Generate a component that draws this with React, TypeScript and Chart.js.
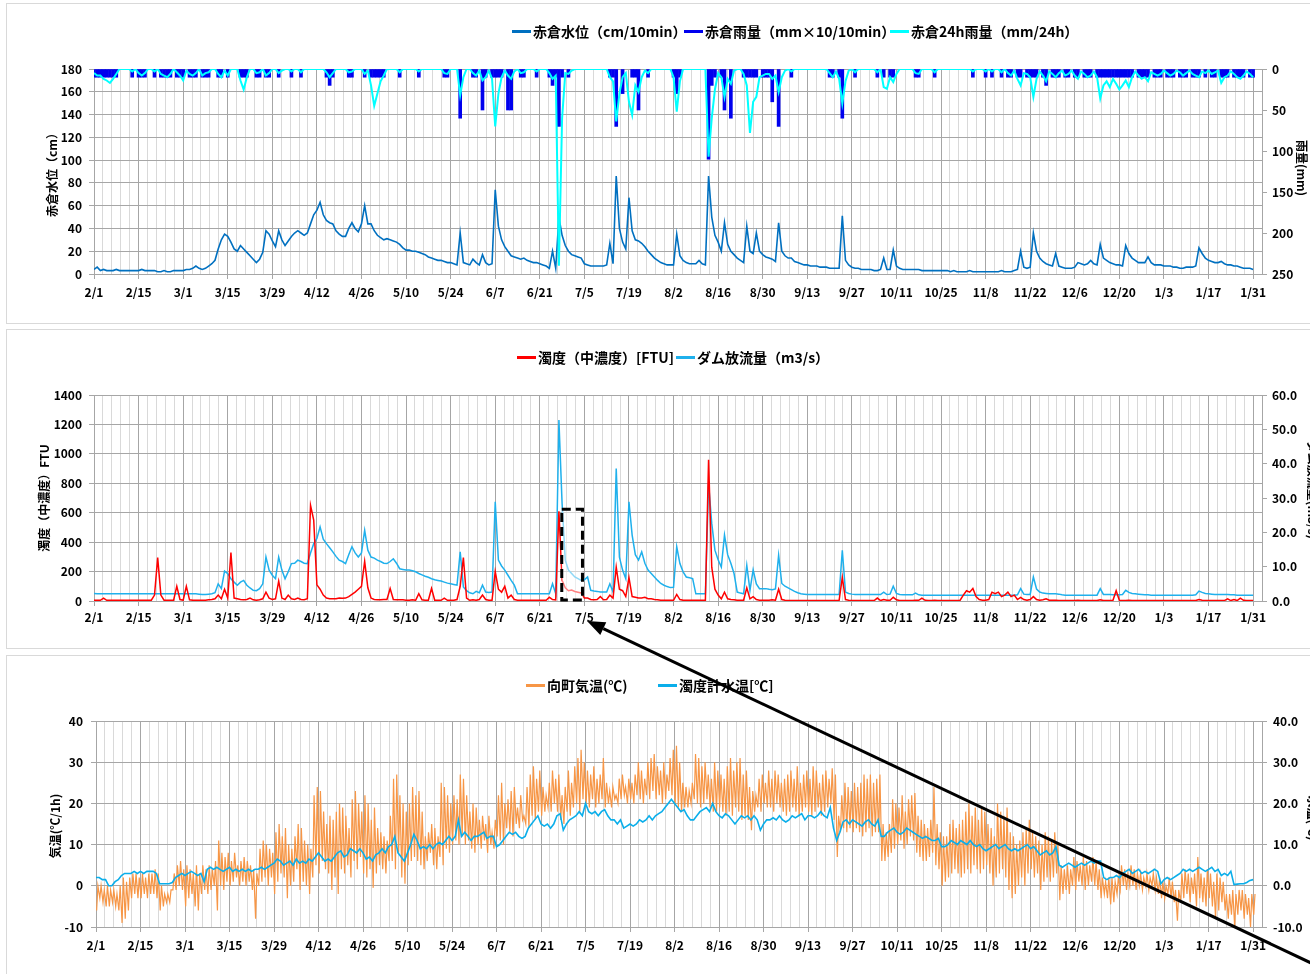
import { useEffect, useRef } from "react";
import { Chart, registerables } from "chart.js";

Chart.register(...registerables);

const FONT = '"Noto Sans CJK JP", "Noto Sans", sans-serif';

// x axis: day index, 0 = 2/1 ... 364 = 1/31 (one extra minor step of room after 1/31)
const tickLabels = [
  "2/1", "2/15", "3/1", "3/15", "3/29", "4/12", "4/26", "5/10", "5/24", "6/7", "6/21", "7/5", "7/19", "8/2",
  "8/16", "8/30", "9/13", "9/27", "10/11", "10/25", "11/8", "11/22", "12/6", "12/20", "1/3", "1/17", "1/31",
];
const MAJOR_STEP = 14;
const MINOR_STEP = 2.8;
const X_MAX = 366.8;

// 赤倉水位 (cm), daily, Feb..Jan
const waterLevel = [
  4, 6, 3, 4, 3, 3, 3, 4, 3, 3, 3, 3, 3, 3, 3, 4, 3, 3, 3, 3, 2, 2, 3, 2, 2, 3, 3, 3,
  3, 4, 4, 5, 7, 5, 4, 5, 7, 9, 12, 22, 30, 35, 33, 28, 22, 20, 25, 22, 19, 16, 13, 10, 13, 19, 38, 35, 29, 24, 38,
  30, 25, 29, 33, 36, 38, 36, 34, 36, 44, 52, 56, 63, 52, 47, 45, 44, 38, 35, 33, 33, 40, 45, 40, 37, 44, 60, 44, 44, 38,
  34, 32, 30, 31, 30, 29, 28, 26, 23, 21, 21, 20, 20, 19, 18, 17, 15, 14, 13, 12, 12, 11, 10, 10, 9, 8, 36, 10, 9, 8, 13,
  10, 8, 17, 10, 8, 9, 74, 42, 30, 24, 20, 16, 15, 14, 13, 14, 12, 11, 10, 10, 9, 8, 7, 5, 20, 5, 50, 34, 25, 20,
  17, 16, 15, 14, 9, 8, 7, 7, 7, 7, 7, 8, 27, 9, 86, 40, 28, 22, 67, 38, 30, 29, 27, 24, 20, 17, 14, 12, 10, 9, 8,
  8, 8, 35, 16, 12, 10, 9, 9, 9, 12, 9, 8, 86, 50, 34, 28, 20, 45, 26, 20, 17, 14, 12, 10, 42, 20, 18, 36, 20, 17, 15,
  14, 13, 11, 45, 20, 16, 14, 14, 11, 10, 9, 8, 8, 7, 7, 7, 6, 6, 6, 5, 5, 5, 5, 51, 12, 8, 6, 5, 5, 4,
  4, 4, 4, 3, 3, 4, 14, 4, 4, 21, 7, 5, 4, 4, 4, 4, 4, 4, 3, 3, 3, 3, 3, 3, 3, 3, 3, 2, 3, 2, 2,
  2, 2, 3, 2, 2, 2, 2, 2, 2, 2, 2, 2, 3, 2, 2, 2, 3, 4, 20, 6, 5, 6, 36, 20, 14, 11, 9, 8, 7, 18,
  7, 6, 5, 5, 5, 6, 10, 9, 8, 9, 12, 9, 8, 26, 14, 12, 10, 9, 8, 8, 7, 25, 18, 14, 12, 10, 10, 10, 15, 10, 8,
  8, 8, 7, 7, 7, 6, 6, 5, 5, 6, 6, 6, 7, 23, 18, 14, 12, 11, 10, 10, 11, 9, 8, 8, 7, 7, 6, 5, 5, 5, 4,
];

// 赤倉雨量 (mm×10/10min), daily peak
const rain10min = [
  10, 10, 10, 10, 10, 10, 10, 10, 0, 0, 0, 0, 10, 0, 10, 10, 10, 0, 0, 10, 0, 10, 10, 10, 10, 0, 10, 10,
  10, 0, 10, 10, 10, 0, 10, 10, 10, 0, 0, 10, 10, 0, 10, 0, 0, 0, 10, 10, 10, 0, 0, 10, 10, 0, 10, 10, 0, 0, 10,
  0, 0, 0, 10, 0, 0, 10, 0, 0, 0, 0, 0, 0, 0, 10, 20, 10, 0, 0, 0, 0, 10, 10, 0, 0, 0, 10, 0, 10, 10,
  10, 10, 10, 0, 0, 0, 0, 10, 0, 0, 0, 0, 0, 10, 0, 0, 0, 0, 0, 0, 0, 10, 10, 0, 0, 0, 60, 0, 0, 0, 10,
  10, 0, 50, 10, 0, 10, 10, 10, 10, 0, 50, 50, 0, 0, 10, 10, 0, 0, 0, 10, 0, 0, 0, 10, 20, 10, 70, 10, 0, 10,
  0, 0, 0, 0, 0, 0, 0, 0, 0, 0, 0, 0, 10, 10, 70, 0, 30, 0, 0, 10, 10, 50, 0, 0, 10, 0, 0, 0, 0, 0, 0,
  0, 10, 30, 10, 0, 0, 0, 0, 0, 0, 0, 0, 110, 20, 10, 0, 10, 50, 0, 60, 0, 0, 0, 10, 10, 10, 10, 10, 0, 10, 10,
  10, 40, 0, 70, 0, 0, 0, 10, 0, 0, 0, 0, 0, 0, 0, 0, 0, 0, 0, 10, 10, 0, 10, 60, 0, 0, 0, 10, 0, 0,
  0, 0, 0, 0, 10, 0, 10, 0, 10, 10, 0, 0, 0, 0, 0, 0, 10, 10, 0, 0, 0, 0, 10, 0, 0, 0, 0, 0, 0, 0, 0,
  0, 0, 0, 10, 0, 0, 0, 10, 0, 10, 0, 0, 10, 0, 10, 10, 0, 10, 10, 0, 10, 10, 10, 10, 0, 10, 20, 0, 10, 10,
  10, 0, 10, 10, 0, 10, 10, 0, 10, 10, 10, 0, 10, 10, 10, 10, 10, 10, 10, 10, 10, 10, 10, 10, 0, 10, 10, 10, 10, 0, 10,
  10, 10, 0, 10, 10, 10, 0, 10, 10, 10, 0, 10, 10, 10, 0, 10, 0, 10, 10, 0, 10, 10, 10, 0, 10, 10, 10, 10, 0, 10, 10,
];

// 赤倉24h雨量 (mm/24h)
const rain24h = [
  5, 8, 8, 12, 14, 17, 12, 6, 0, 0, 0, 0, 3, 0, 5, 8, 5, 0, 0, 3, 0, 6, 8, 10, 6, 0, 4, 8,
  14, 2, 6, 8, 5, 0, 8, 5, 4, 0, 0, 6, 10, 2, 8, 0, 0, 0, 14, 25, 10, 0, 0, 5, 4, 0, 8, 5, 0, 0, 5,
  2, 0, 0, 3, 0, 0, 4, 0, 0, 0, 0, 0, 0, 0, 4, 10, 5, 0, 0, 0, 0, 4, 3, 0, 0, 0, 6, 2, 20, 45,
  30, 15, 8, 0, 0, 0, 0, 4, 0, 0, 0, 0, 0, 3, 0, 0, 0, 0, 0, 0, 0, 5, 6, 0, 0, 0, 32, 10, 0, 0, 5,
  8, 2, 14, 10, 2, 12, 70, 30, 10, 2, 8, 12, 3, 0, 5, 4, 0, 0, 0, 3, 0, 0, 0, 5, 12, 8, 240, 60, 5, 6,
  2, 0, 0, 0, 0, 0, 0, 0, 0, 0, 0, 0, 10, 15, 64, 30, 10, 5, 40, 56, 20, 28, 10, 2, 5, 0, 0, 0, 0, 0, 0,
  0, 10, 52, 15, 0, 0, 0, 0, 0, 0, 0, 0, 107, 60, 25, 5, 10, 34, 12, 18, 2, 0, 0, 6, 20, 78, 40, 34, 10, 8, 6,
  6, 12, 8, 28, 10, 2, 0, 3, 0, 0, 0, 0, 0, 0, 0, 0, 0, 0, 0, 5, 10, 3, 12, 42, 15, 2, 0, 4, 0, 0,
  0, 0, 0, 0, 4, 0, 22, 24, 10, 16, 6, 0, 0, 0, 0, 0, 5, 6, 0, 0, 0, 0, 4, 0, 0, 0, 0, 0, 0, 0, 0,
  0, 0, 0, 3, 0, 0, 0, 3, 0, 3, 0, 0, 4, 0, 5, 8, 2, 12, 20, 5, 6, 10, 34, 12, 3, 8, 15, 3, 6, 10,
  5, 2, 8, 6, 2, 8, 12, 3, 6, 10, 8, 3, 10, 36, 20, 15, 22, 12, 18, 25, 20, 14, 22, 10, 3, 8, 12, 10, 15, 4, 6,
  8, 6, 2, 5, 8, 6, 2, 4, 8, 5, 2, 6, 8, 10, 3, 5, 2, 6, 4, 2, 17, 10, 8, 3, 6, 10, 12, 8, 3, 6, 10,
];

// 濁度(中濃度) (FTU)
const turbidity = [
  5, 5, 5, 20, 5, 5, 5, 5, 5, 5, 5, 5, 5, 5, 5, 5, 5, 5, 5, 40, 295, 40, 5, 5, 5, 5, 100, 10,
  5, 100, 8, 5, 5, 5, 5, 5, 8, 10, 15, 40, 15, 80, 20, 330, 20, 15, 10, 8, 10, 20, 8, 5, 8, 15, 60, 20, 10, 15, 135,
  20, 10, 40, 15, 10, 20, 10, 8, 15, 650, 550, 110, 80, 40, 20, 15, 15, 15, 20, 18, 20, 30, 45, 60, 80, 100, 270, 90, 20, 10,
  8, 8, 10, 10, 85, 10, 8, 8, 8, 5, 5, 8, 5, 50, 8, 5, 5, 85, 5, 5, 5, 20, 5, 5, 5, 10, 100, 295, 20, 5, 8,
  5, 10, 40, 10, 5, 5, 200, 80, 60, 100, 20, 40, 10, 5, 5, 5, 5, 5, 5, 5, 5, 5, 5, 25, 10, 8, 610, 140, 90, 70,
  75, 65, 60, 55, 20, 20, 10, 8, 10, 30, 8, 10, 40, 20, 230, 80, 70, 30, 160, 30, 25, 20, 20, 25, 15, 15, 10, 8, 5, 5, 5,
  5, 5, 45, 10, 5, 5, 5, 5, 5, 5, 5, 5, 960, 230, 80, 40, 15, 60, 15, 10, 8, 5, 5, 5, 90, 15, 30, 10, 5, 5, 5,
  5, 8, 5, 80, 10, 5, 3, 3, 3, 3, 3, 3, 3, 3, 3, 3, 3, 3, 3, 3, 3, 3, 5, 160, 10, 5, 3, 3, 3, 3,
  3, 3, 3, 3, 20, 3, 10, 5, 5, 25, 8, 3, 3, 3, 3, 3, 5, 5, 20, 5, 3, 3, 5, 3, 3, 3, 3, 3, 3, 3, 5,
  40, 70, 60, 85, 30, 10, 5, 5, 10, 60, 50, 60, 30, 40, 60, 30, 40, 10, 25, 10, 5, 10, 30, 10, 5, 8, 15, 5, 5, 5,
  3, 3, 3, 3, 3, 3, 5, 3, 3, 3, 3, 3, 3, 8, 3, 3, 3, 5, 70, 5, 3, 3, 5, 3, 3, 3, 3, 3, 3, 3, 3,
  3, 3, 3, 3, 3, 3, 3, 3, 3, 3, 3, 3, 3, 10, 5, 3, 3, 3, 3, 3, 3, 3, 15, 3, 10, 3, 20, 5, 3, 3, 3,
];

// ダム放流量 (m3/s)
const damOutflow = [
  2.2, 2.1, 2.1, 2.1, 2.1, 2.1, 2.1, 2.1, 2.1, 2.1, 2.1, 2.1, 2.1, 2.1, 2.1, 2.1, 2.1, 2.1, 2.1, 2.1, 2.1, 2.1, 2.1, 2.1, 2.1, 2.1, 2.1, 2.1,
  2.1, 2.1, 2.1, 2.1, 2.1, 2.0, 1.9, 1.9, 2.0, 2.1, 2.4, 5.0, 3.6, 8.7, 8.0, 6.5, 5.5, 4.6, 5.5, 6.0, 4.6, 3.8, 3.1, 3.0, 3.6, 5.0, 12.8, 9.0, 7.5, 6.5, 12.8,
  9.0, 6.5, 8.5, 10.9, 11.0, 11.9, 11.5, 11.0, 10.9, 14.0, 16.7, 18.2, 21.6, 18.0, 16.7, 15.5, 14.3, 13.0, 11.9, 11.5, 10.9, 13.5, 15.8, 14.0, 12.8, 14.0, 20.6, 14.8, 12.8, 12.5,
  11.9, 11.5, 11.0, 10.9, 11.5, 12.3, 11.0, 9.4, 9.2, 9.0, 9.0, 8.8, 8.5, 8.0, 7.6, 7.2, 6.9, 6.5, 6.2, 6.0, 5.8, 5.5, 5.2, 5.0, 4.8, 4.6, 14.3, 4.1, 3.0, 2.4, 2.1,
  2.8, 2.4, 4.6, 2.6, 2.5, 2.6, 28.9, 11.9, 10.2, 9.0, 7.5, 6.0, 4.6, 2.1, 2.1, 2.1, 2.1, 2.1, 2.1, 2.1, 2.1, 2.1, 2.1, 2.1, 5.0, 2.1, 52.7, 28.4, 11.9, 9.0,
  8.0, 7.0, 6.5, 6.0, 6.2, 7.0, 3.1, 2.9, 2.8, 2.6, 2.6, 2.6, 5.0, 2.6, 38.6, 12.8, 9.0, 6.5, 28.9, 19.2, 13.5, 11.9, 14.3, 11.0, 9.0, 8.0, 7.0, 6.0, 5.1, 4.6, 4.2,
  3.9, 4.0, 15.8, 10.9, 8.5, 7.0, 6.8, 6.5, 2.1, 2.1, 2.1, 2.1, 34.2, 22.6, 14.8, 12.0, 9.9, 19.2, 13.5, 11.0, 8.0, 2.6, 2.3, 2.1, 10.4, 3.1, 9.1, 5.0, 3.6, 3.6, 3.6,
  3.4, 3.3, 3.5, 13.3, 5.1, 4.3, 3.8, 3.3, 2.8, 2.4, 2.1, 2.0, 1.9, 1.9, 1.9, 1.9, 1.9, 1.9, 1.9, 1.9, 1.9, 1.9, 1.9, 14.8, 2.6, 2.2, 2.0, 1.9, 1.9, 1.9,
  1.9, 1.9, 1.9, 1.9, 1.9, 1.9, 2.6, 1.9, 2.0, 4.3, 2.2, 1.9, 1.8, 1.8, 1.8, 1.8, 2.3, 1.8, 1.7, 1.7, 1.7, 1.7, 1.7, 1.7, 1.7, 1.7, 1.7, 1.7, 1.7, 1.7, 1.7,
  1.7, 1.7, 1.7, 1.7, 1.7, 1.7, 1.7, 1.7, 1.7, 1.7, 1.7, 1.7, 1.7, 1.7, 1.7, 1.7, 1.7, 1.8, 3.6, 2.0, 1.9, 1.9, 7.0, 3.5, 2.6, 2.3, 2.2, 2.1, 2.1, 2.1,
  2.0, 1.8, 1.7, 1.7, 1.7, 1.7, 1.7, 1.7, 1.7, 1.7, 1.7, 1.7, 1.7, 3.6, 1.9, 1.9, 1.9, 1.8, 1.8, 1.8, 1.9, 3.1, 2.5, 2.2, 2.1, 2.0, 1.9, 1.8, 1.8, 1.7, 1.7,
  1.7, 1.7, 1.7, 1.7, 1.7, 1.7, 1.7, 1.7, 1.7, 1.7, 1.7, 1.7, 1.8, 2.9, 2.5, 2.2, 2.1, 2.0, 1.9, 1.9, 1.9, 1.9, 1.9, 1.8, 1.8, 1.7, 1.7, 1.7, 1.7, 1.7, 1.7,
];

// 向町気温 (℃): daily high and low
const airTempHigh = [
  0, 0, -1, 0, -1, -1, -2, 0, 2, 1, 2, 3, 3, 2, 3, 2, 3, 3, 4, 3, 0, -2, -2, -1, 3, 5, 6, 4,
  5, 4, 3, 5, 3, 5, 4, 5, 4, 6, 11, 8, 7, 8, 6, 8, 5, 6, 7, 6, 5, 4, 3, 9, 11, 10, 9, 8, 13, 15, 12,
  14, 10, 9, 12, 15, 14, 11, 10, 9, 22, 24, 23, 18, 15, 17, 16, 18, 20, 19, 17, 14, 21, 23, 20, 18, 22, 20, 16, 19, 14,
  13, 12, 11, 17, 26, 27, 22, 20, 18, 20, 24, 22, 23, 18, 12, 13, 15, 14, 12, 25, 24, 22, 20, 22, 21, 27, 26, 22, 18, 20, 19,
  16, 17, 15, 17, 13, 16, 22, 25, 20, 21, 23, 24, 19, 22, 17, 24, 27, 29, 26, 28, 24, 22, 25, 28, 26, 27, 22, 24, 28, 25,
  29, 31, 33, 30, 28, 27, 29, 26, 27, 31, 25, 23, 24, 22, 26, 27, 24, 26, 25, 27, 30, 28, 26, 30, 31, 32, 29, 28, 30, 27, 31,
  33, 34, 30, 25, 24, 23, 25, 32, 31, 29, 30, 27, 26, 30, 28, 27, 26, 29, 31, 28, 30, 31, 27, 28, 24, 23, 22, 26, 27, 25, 28,
  26, 28, 27, 25, 26, 27, 28, 26, 29, 25, 27, 28, 26, 29, 28, 25, 27, 28, 26, 28.5, 27, 17, 22, 25, 24, 23, 25, 24, 25, 27,
  26, 27, 25, 26, 27, 15, 13, 15, 21, 20, 19, 22, 18, 21, 22, 22.5, 17, 16, 15, 14, 16, 24, 15, 13, 12, 12, 15, 16, 14, 15, 16,
  18, 20, 17, 19, 16, 19, 18, 15, 14, 12, 20, 18, 17, 19, 13, 12, 10, 11, 13, 14, 16, 13, 12, 11, 10, 13, 12, 11, 13, 10,
  5, 4, 5, 4, 7, 6, 5, 7, 6, 5, 7, 6, 4, 2, 1, 2, 2, 1, 2, 5, 4, 3, 5, 4, 3, 3, 2, 3, 2, 3, 2,
  2, 1, 0, 2, 1, -1, -1, 3, 4, 3, 2, 3, 7, 3, 2, 4, 3, 1, 3, 2, 1, -2, -2, -1, -2, -1, -1, -2, -3, -2, -2,
];
const airTempLow = [
  -6, -3, -4, -5, -5, -4, -5, -6, -9, -8, -6, -3, -2, -3, -3, -2, -3, -2, -2, -3, -6, -5, -4, -4, -1, -1, 0, -1,
  -5, -3, -2, -5, -6, -2, -1, -2, -1, 0, -6, 0, -1, 1, 0, 1, 2, 0, 1, 0, 1, -1, -8, 0, 1, 2, 0, 2, -2, 1, 3,
  2, -3, 0, 1, 4, -1, 1, 0, -2, 2, 5, 3, 6, 4, 3, -1, 2, -2, 4, 3, 5, 2, 6, 4, 7, 3, 2, 4, -0.5, 3,
  5, 4, 3, 6, 6, 4, 8, 2, 0.5, 5, 6, 7, 6, 5, 4, 6, 8, 5, 4, 7, 5, 9, 8, 10, 11, 10, 12, 10, 11, 9, 8,
  10, 9, 11, 8, 10, 9, 12, 11, 10, 14, 13, 12, 15, 14, 16, 15, 14, 17, 16, 18, 17, 18, 19, 18, 20, 18, 16, 15, 18, 17,
  19, 20, 18, 21, 20, 19, 21, 19, 20, 21, 19, 20, 19, 21, 20, 21, 22, 20, 21, 20, 22, 21, 20, 22, 21, 23, 21, 22, 20, 21, 23,
  22, 20, 19, 18, 19, 19, 20, 21, 20, 19, 20, 21, 19, 18, 18, 19, 18, 17, 18, 17, 19, 18, 16, 17, 16, 13.5, 18, 19, 18, 20, 19,
  19, 18, 20, 19, 18, 17, 18, 19, 18, 17, 18, 19, 18, 17, 18, 19, 17, 18, 19, 20, 16, 7, 13, 14, 13, 14, 13, 14, 13, 12,
  13, 14, 12, 13, 13, 6, 6, 7, 8, 9, 10, 11, 9, 10, 12, 11, 8, 7, 6, 6, 7, 8, 5, 4, 0, 1, 2, 3, 4, 3, 2,
  3, 4, 3, 5, 4, 3, 4, 5, 3, 0, 2, 3, 4, 2, -1, -3, -2, 0, 2, 0, 3, 4, 2, 3, -1, 1, 2, 1, 2, 3,
  -3.5, -2, -1, -2, 0, -1, 1, 0, -1, 0, 1, 0, -1, -3, -2, -3, -4.5, -4, -2, -1, 0, -1, 0, 0, -1, 0, -1, 0, -1, 0, -1,
  -2, -3, -3, -2, -3, -4, -8.5, -4, -3, -2, -4, -2, -5, -3, -4, -5, -3, -5, -8, -6, -4, -6, -8, -7, -10, -7, -6, -8, -7, -10, -7,
];

// 濁度計水温 (℃), daily
const waterTemp = [
  2, 2, 1.5, 1.5, 0, 0, 1, 1.5, 2.5, 3, 3, 3, 3.5, 3, 3.5, 3, 3.5, 3.5, 3.5, 3, 0.5, 0.5, 0.5, 0.5, 0.8, 2, 2.5, 3,
  2.5, 3, 3.5, 3, 2.5, 3, 1, 4, 4.5, 4, 4.5, 4, 3.5, 4, 4.5, 3.5, 4, 3.5, 4, 3.5, 4, 3.5, 4, 4, 4.5, 4, 4.5, 5, 5.5, 6.5, 6,
  5, 5.5, 6, 5, 6.5, 5.5, 6, 5.5, 6.5, 6, 7, 8, 7, 6, 6.5, 6, 7, 8, 8.5, 7, 7.5, 9, 8.5, 8, 9, 8, 6.5, 7, 6, 7.5,
  8, 9, 8, 9.5, 10, 12, 8, 7, 6, 8, 10, 12.5, 11, 9, 9.5, 9, 10, 9, 10, 10.5, 10, 11, 12, 11, 12, 16, 12, 13, 12, 11, 12,
  12, 12.5, 13, 11.5, 12, 12, 9.5, 10, 11, 12, 13, 12.5, 13, 12, 11.5, 12, 14, 15, 16, 17, 15, 14.5, 15, 14, 15, 17, 17.5, 13.5, 15, 16,
  16.5, 17, 18, 17, 20, 18, 17.5, 18, 17, 18, 18.5, 17, 16, 16, 15, 16, 14, 14.5, 15, 14.5, 15, 16, 15.5, 16, 17, 16, 17, 17.5, 18, 19, 20,
  21, 20, 19, 18, 18.5, 17, 16, 16, 17, 18, 18.5, 19, 18, 20, 18, 17, 16.5, 17.5, 17, 16, 15, 16, 17, 16.5, 17, 16, 17, 16, 13.5, 15, 16,
  16, 16.5, 16, 17, 16, 15.5, 16, 17, 16.5, 17, 17.5, 16, 17, 17, 16.5, 17, 18, 17, 16.5, 19, 14, 11, 13, 15.5, 16, 15, 16, 15.5, 15, 14.5,
  15.5, 16, 15, 14.5, 16, 12, 12, 13, 13.5, 14, 13, 12.5, 13, 14, 13.5, 13, 12.5, 12, 11.5, 12, 11.5, 11, 11, 11.5, 9.5, 9.5, 10, 11, 10.5, 10, 11,
  10.5, 10, 11, 10, 9.5, 10, 9, 8.5, 9, 9.5, 10, 9, 9.5, 10, 9, 8.5, 9, 8.5, 9, 9.5, 10, 9, 9.5, 8.5, 7.5, 8, 8.5, 7.5, 8, 9.5,
  5, 4.5, 5, 5.5, 5, 4.5, 5, 5.5, 5, 5.5, 6, 5.5, 6, 6, 2, 1.5, 2, 2, 2.5, 2, 3, 3.5, 4, 3, 3.5, 4, 3, 3.5, 3, 3.5, 4,
  3.5, 0.5, 1.5, 2, 1.5, 2, 2.5, 3, 4, 3.5, 4, 3.5, 4, 4.5, 4, 3.5, 4, 4.5, 3.5, 4, 2.5, 3, 2.5, 3.5, 0.3, 0.4, 0.5, 0.5, 0.8, 1.3, 1.5,
];

// dashed highlight window on the turbidity panel (day range, FTU height)
const highlightBox = { from: 146.9, to: 153.4, top: 623 };

const GRID = "#a6a6a6";
const MINOR_GRID = "#d9d9d9";
const tickFont = { family: FONT, size: 12, weight: "bold" as const };

const pts = (vals: number[]) => vals.map((y, i) => ({ x: i, y }));
const barPts = (vals: number[]) =>
  vals.map((y, i) => (y > 0 ? { x: i, y } : null)).filter((p) => p !== null);
const diurnal = (lo: number[], hi: number[]) =>
  lo.flatMap((l, i) => [
    { x: i + 0.2, y: l },
    { x: i + 0.6, y: hi[i] },
  ]);

function xAxes(height: number, pad: number) {
  return {
    xMinor: {
      type: "linear",
      position: "bottom",
      bounds: "data",
      offset: false,
      min: 0,
      max: X_MAX,
      ticks: { display: false, stepSize: MINOR_STEP, includeBounds: false },
      grid: { color: MINOR_GRID, drawTicks: false, z: -1, offset: false },
      border: { display: false },
      afterFit: (s: any) => {
        s.height = 0;
      },
    },
    x: {
      type: "linear",
      position: "bottom",
      bounds: "data",
      offset: false,
      min: 0,
      max: X_MAX,
      ticks: {
        stepSize: MAJOR_STEP,
        includeBounds: false,
        autoSkip: false,
        maxRotation: 0,
        minRotation: 0,
        padding: pad,
        color: "#000",
        font: tickFont,
        callback: (v: any) => tickLabels[Math.round(Number(v) / MAJOR_STEP)] ?? "",
      },
      grid: { color: GRID, tickColor: GRID, tickLength: 5, offset: false },
      border: { color: GRID },
      afterFit: (s: any) => {
        s.height = height;
      },
    },
  };
}

function yAxis(
  position: "left" | "right",
  min: number,
  max: number,
  step: number,
  width: number,
  pad: number,
  opts: { reverse?: boolean; decimals?: number; onChart?: boolean } = {}
) {
  return {
    type: "linear",
    position,
    min,
    max,
    reverse: !!opts.reverse,
    ticks: {
      stepSize: step,
      padding: pad,
      color: "#000",
      font: tickFont,
      callback: (v: any) => (opts.decimals ? Number(v).toFixed(opts.decimals) : String(v)),
    },
    grid: {
      color: GRID,
      tickColor: GRID,
      tickLength: 5,
      drawOnChartArea: !!opts.onChart,
    },
    border: { color: GRID },
    afterFit: (s: any) => {
      s.width = width;
    },
  };
}

function baseOptions(scales: any) {
  return {
    animation: false,
    responsive: false,
    devicePixelRatio: 1,
    events: [],
    layout: { padding: { top: 69, left: 0, right: 0, bottom: 0 } },
    plugins: { legend: { display: false }, tooltip: { enabled: false } },
    elements: { point: { radius: 0 }, line: { tension: 0 } },
    scales,
  };
}

const highlightPlugin = {
  id: "highlightWindow",
  afterDatasetsDraw(chart: any) {
    const { ctx, scales } = chart;
    const l = scales.x.getPixelForValue(highlightBox.from);
    const r = scales.x.getPixelForValue(highlightBox.to);
    const t = scales.y.getPixelForValue(highlightBox.top);
    const b = scales.y.getPixelForValue(0) - 1;
    ctx.save();
    ctx.fillStyle = "rgba(255,255,255,0.5)";
    ctx.fillRect(l, t, r - l, b - t);
    ctx.setLineDash([9, 5]);
    ctx.lineWidth = 3;
    ctx.strokeStyle = "#000";
    ctx.strokeRect(l, t, r - l, b - t);
    ctx.restore();
  },
};

function levelChart(canvas: HTMLCanvasElement) {
  return new Chart(canvas, {
    type: "line",
    data: {
      datasets: [
        {
          type: "line",
          label: "赤倉24h雨量(mm/24h)",
          data: pts(rain24h),
          borderColor: "#00FFFF",
          borderWidth: 2,
          xAxisID: "x",
          yAxisID: "y2",
          order: 0,
        },
        {
          type: "bar",
          label: "赤倉雨量(mm×10/10min)",
          data: barPts(rain10min),
          backgroundColor: "#0000EE",
          borderWidth: 0,
          barThickness: 3,
          xAxisID: "x",
          yAxisID: "y2",
          order: 1,
        },
        {
          type: "line",
          label: "赤倉水位(cm/10min)",
          data: pts(waterLevel),
          borderColor: "#0070C0",
          borderWidth: 1.6,
          xAxisID: "x",
          yAxisID: "y",
          order: 2,
        },
      ],
    },
    options: baseOptions({
      ...xAxes(46, 6),
      y: yAxis("left", 0, 180, 20, 94, 7, { onChart: true }),
      y2: yAxis("right", 0, 250, 50, 48, 5, { reverse: true }),
    }),
  } as any);
}

function turbidityChart(canvas: HTMLCanvasElement) {
  return new Chart(canvas, {
    type: "line",
    data: {
      datasets: [
        {
          label: "濁度(中濃度)[FTU]",
          data: pts(turbidity),
          borderColor: "#FF0000",
          borderWidth: 1.5,
          xAxisID: "x",
          yAxisID: "y",
          order: 0,
        },
        {
          label: "ダム放流量(m3/s)",
          data: pts(damOutflow),
          borderColor: "#1FB0EC",
          borderWidth: 1.5,
          xAxisID: "x",
          yAxisID: "y2",
          order: 1,
        },
      ],
    },
    options: baseOptions({
      ...xAxes(45, 4),
      y: yAxis("left", 0, 1400, 200, 94, 7, { onChart: true }),
      y2: yAxis("right", 0, 60, 10, 48, 5, { decimals: 1 }),
    }),
    plugins: [highlightPlugin],
  } as any);
}

function temperatureChart(canvas: HTMLCanvasElement) {
  return new Chart(canvas, {
    type: "line",
    data: {
      datasets: [
        {
          label: "濁度計水温[℃]",
          data: pts(waterTemp),
          borderColor: "#0AAEEA",
          borderWidth: 1.6,
          xAxisID: "x",
          yAxisID: "y2",
          order: 0,
        },
        {
          label: "向町気温(℃)",
          data: diurnal(airTempLow, airTempHigh),
          borderColor: "#F79646",
          borderWidth: 1.2,
          xAxisID: "x",
          yAxisID: "y",
          order: 1,
        },
      ],
    },
    options: baseOptions({
      ...xAxes(47, 6),
      y: yAxis("left", -10, 40, 10, 96, 8, { onChart: true }),
      y2: yAxis("right", -10, 40, 10, 48, 6, { decimals: 1 }),
    }),
  } as any);
}

const legendFont = `bold 14px ${FONT}`;
const titleFont = `bold 12px ${FONT}`;

function LegendItem({ x, y, color, text }: { x: number; y: number; color: string; text: string }) {
  return (
    <>
      <div style={{ position: "absolute", left: x, top: y - 1, width: 19, height: 2.5, background: color }} />
      <div
        style={{
          position: "absolute",
          left: x + 21,
          top: y - 10,
          height: 20,
          lineHeight: "20px",
          font: legendFont,
          whiteSpace: "nowrap",
          color: "#000",
        }}
      >
        {text}
      </div>
    </>
  );
}

function AxisTitle({ cx, cy, text, rotate }: { cx: number; cy: number; text: string; rotate: number }) {
  return (
    <div
      style={{
        position: "absolute",
        left: cx,
        top: cy,
        transform: `translate(-50%, -50%) rotate(${rotate}deg)`,
        font: titleFont,
        whiteSpace: "nowrap",
        color: "#000",
        lineHeight: "14px",
      }}
    >
      {text}
    </div>
  );
}

// pointer from the lower right towards the highlighted window
const arrowTail = { x: 1345, y: 979 };
const arrowTip = { x: 587, y: 621 };

function Arrow() {
  const dx = arrowTail.x - arrowTip.x;
  const dy = arrowTail.y - arrowTip.y;
  const len = Math.hypot(dx, dy);
  const ux = dx / len;
  const uy = dy / len;
  const headLen = 18;
  const half = 7;
  const bx = arrowTip.x + ux * headLen;
  const by = arrowTip.y + uy * headLen;
  const p1 = `${arrowTip.x},${arrowTip.y}`;
  const p2 = `${bx - uy * half},${by + ux * half}`;
  const p3 = `${bx + uy * half},${by - ux * half}`;
  return (
    <svg width={1310} height={974} style={{ position: "absolute", left: 0, top: 0, pointerEvents: "none" }}>
      <line x1={arrowTail.x} y1={arrowTail.y} x2={bx} y2={by} stroke="#000" strokeWidth={3} />
      <polygon points={`${p1} ${p2} ${p3}`} fill="#000" />
    </svg>
  );
}

export default function App() {
  const c1 = useRef<HTMLCanvasElement>(null);
  const c2 = useRef<HTMLCanvasElement>(null);
  const c3 = useRef<HTMLCanvasElement>(null);

  useEffect(() => {
    document.body.style.margin = "0";
    document.body.style.overflow = "hidden";
    const charts = [levelChart(c1.current!), turbidityChart(c2.current!), temperatureChart(c3.current!)];
    return () => charts.forEach((c) => c.destroy());
  }, []);

  const frame = (top: number, height: number) => (
    <div
      style={{
        position: "absolute",
        left: 6,
        top,
        width: 1330,
        height,
        border: "1.5px solid #d9d9d9",
        boxSizing: "border-box",
      }}
    />
  );

  return (
    <div
      style={{
        position: "absolute",
        left: 0,
        top: 0,
        width: 1310,
        height: 974,
        overflow: "hidden",
        background: "#fff",
      }}
    >
      {frame(3, 321)}
      {frame(329, 320)}
      {frame(655, 340)}

      <canvas ref={c1} width={1310} height={320} style={{ position: "absolute", left: 0, top: 0 }} />
      <canvas ref={c2} width={1310} height={320} style={{ position: "absolute", left: 0, top: 326 }} />
      <canvas ref={c3} width={1310} height={322} style={{ position: "absolute", left: 0, top: 652 }} />

      <LegendItem x={512} y={31} color="#0070C0" text="赤倉水位（cm/10min）" />
      <LegendItem x={684} y={31} color="#0000EE" text="赤倉雨量（mm×10/10min）" />
      <LegendItem x={890} y={31} color="#00FFFF" text="赤倉24h雨量（mm/24h）" />
      <AxisTitle cx={52} cy={172} text="赤倉水位（cm）" rotate={-90} />
      <AxisTitle cx={1302} cy={168} text="雨量(mm)" rotate={90} />

      <LegendItem x={517} y={357} color="#FF0000" text="濁度（中濃度）[FTU]" />
      <LegendItem x={676} y={357} color="#1FB0EC" text="ダム放流量（m3/s）" />
      <AxisTitle cx={44} cy={498} text="濁度（中濃度）FTU" rotate={-90} />
      <AxisTitle cx={1313} cy={490} text="ダム放流量(m3/s)" rotate={90} />

      <LegendItem x={526} y={685} color="#F79646" text="向町気温(℃)" />
      <LegendItem x={658} y={685} color="#0AAEEA" text="濁度計水温[℃]" />
      <AxisTitle cx={55} cy={826} text="気温(℃/1h)" rotate={-90} />
      <AxisTitle cx={1313} cy={818} text="水温(℃)" rotate={90} />

      <Arrow />
    </div>
  );
}
